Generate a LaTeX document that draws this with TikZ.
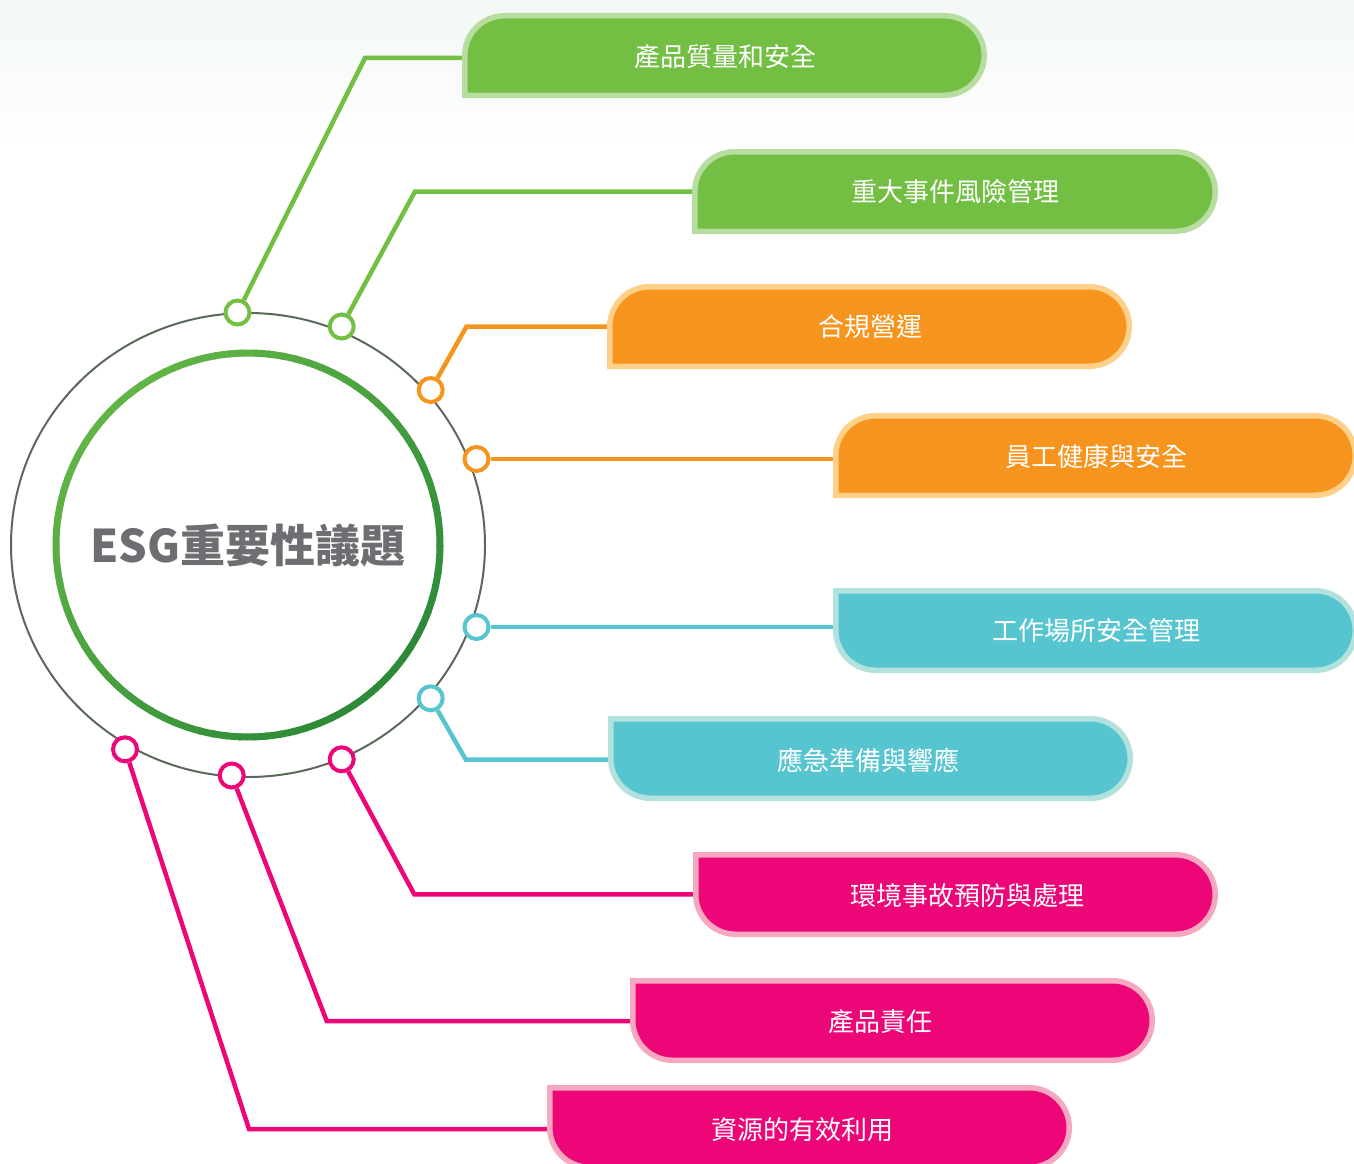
\documentclass[tikz,border=0pt]{standalone}
\usepackage{fontspec}
\setmainfont{Noto Sans CJK TC}
\definecolor{cgreen}{RGB}{114,191,68}
\definecolor{bgreen}{RGB}{184,221,160}
\definecolor{corange}{RGB}{247,148,30}
\definecolor{borange}{RGB}{254,208,138}
\definecolor{ccyan}{RGB}{86,197,208}
\definecolor{bcyan}{RGB}{178,225,222}
\definecolor{cpink}{RGB}{236,6,120}
\definecolor{bpink}{RGB}{245,168,190}
\definecolor{ring}{RGB}{90,105,90}
\definecolor{glight}{RGB}{98,181,70}
\definecolor{gdark}{RGB}{44,138,56}
\definecolor{cgray}{RGB}{109,110,113}
\definecolor{bgtop}{RGB}{242,248,245}
\newcommand\pillA[6]{%
 \pgfmathsetmacro\pXa{#1+2.75}\pgfmathsetmacro\pYa{#2+2.75}%
 \pgfmathsetmacro\pXb{#3-2.75}\pgfmathsetmacro\pYb{#4-2.75}%
 \pgfmathsetmacro\pR{(\pYb-\pYa)/2}%
 \filldraw[fill=#5,draw=#6,line width=5.5] (\pXa,\pYb) -- (\pXa,\pYa+\pR)
   arc[start angle=180,end angle=270,radius=\pR] -- (\pXb-\pR,\pYa)
   arc[start angle=270,end angle=450,radius=\pR] -- cycle;}
\newcommand\pillB[6]{%
 \pgfmathsetmacro\pXa{#1+2.75}\pgfmathsetmacro\pYa{#2+2.75}%
 \pgfmathsetmacro\pXb{#3-2.75}\pgfmathsetmacro\pYb{#4-2.75}%
 \pgfmathsetmacro\pR{(\pYb-\pYa)/2}%
 \filldraw[fill=#5,draw=#6,line width=5.5] (\pXa,\pYa) -- (\pXb-\pR,\pYa)
   arc[start angle=270,end angle=450,radius=\pR] -- (\pXa+\pR,\pYb)
   arc[start angle=90,end angle=180,radius=\pR] -- cycle;}
\tikzset{
  mk/.style={circle,draw=#1,line width=4,fill=white,minimum size=24,inner sep=0pt},
  cn/.style={draw=#1,line width=4.5},
  lbl/.style={text=white,font=\fontsize{26}{30}\selectfont,inner sep=0pt}
}
\begin{document}
\begin{tikzpicture}[x=1pt,y=-1pt]
\useasboundingbox (0,0) rectangle (1354,1164);
\fill[white] (0,0) rectangle (1354,1164);
\fill[top color=bgtop,bottom color=white] (0,0) rectangle (1354,150);
% outer ring
\draw[ring,line width=2] (248,545) ellipse[x radius=237,y radius=232];
% markers
\node[mk=cgreen] (m1) at (237.5,312.5) {};
\node[mk=cgreen] (m2) at (341.7,326.5) {};
\node[mk=corange] (m3) at (430.7,390) {};
\node[mk=corange] (m4) at (476.5,459) {};
\node[mk=ccyan] (m5) at (476.5,627) {};
\node[mk=ccyan] (m6) at (430.7,698.3) {};
\node[mk=cpink] (m7) at (341.7,759.3) {};
\node[mk=cpink] (m8) at (231.7,775.5) {};
\node[mk=cpink] (m9) at (125,749.3) {};
% connector ends
\coordinate (e1) at (472,58);
\coordinate (e2) at (702,191.5);
\coordinate (e3) at (617,326.5);
\coordinate (e4) at (843,459);
\coordinate (e5) at (843,627);
\coordinate (e6) at (618,759.5);
\coordinate (e7) at (703,894.3);
\coordinate (e8) at (640,1021);
\coordinate (e9) at (557,1129);
% connectors
\draw[cn=cgreen] (m1) -- (365,58) -- (e1);
\draw[cn=cgreen] (m2) -- (415,191.5) -- (e2);
\draw[cn=corange] (m3) -- (466.5,326.5) -- (e3);
\draw[cn=corange] (m4) -- (e4);
\draw[cn=ccyan] (m5) -- (e5);
\draw[cn=ccyan] (m6) -- (465.7,759.5) -- (e6);
\draw[cn=cpink] (m7) -- (414.3,894.3) -- (e7);
\draw[cn=cpink] (m8) -- (326.7,1021) -- (e8);
\draw[cn=cpink] (m9) -- (249,1129) -- (e9);
% boxes
\pillA{462}{13}{987}{98}{cgreen}{bgreen}
\pillA{692}{149}{1218}{234}{cgreen}{bgreen}
\pillA{607}{284}{1132}{369}{corange}{borange}
\pillA{833}{413}{1358}{498}{corange}{borange}
\pillB{833}{588}{1358}{673}{ccyan}{bcyan}
\pillB{608}{716}{1133}{801}{ccyan}{bcyan}
\pillB{693}{852}{1218}{937}{cpink}{bpink}
\pillB{630}{978}{1155}{1063}{cpink}{bpink}
\pillB{547}{1085}{1072}{1170}{cpink}{bpink}
% labels
\node[lbl] (t1) at (725,57) {產品質量和安全};
\node[lbl] (t2) at (955,192) {重大事件風險管理};
\node[lbl] (t3) at (870,327) {合規營運};
\node[lbl] (t4) at (1096,457) {員工健康與安全};
\node[lbl] (t5) at (1096,631) {工作場所安全管理};
\node[lbl] (t6) at (868,760) {應急準備與響應};
\node[lbl] (t7) at (967,896) {環境事故預防與處理};
\node[lbl] (t8) at (880,1022) {產品責任};
\node[lbl] (t9) at (802,1130) {資源的有效利用};
% inner gradient ring
\foreach \a in {0,4,...,356}{
  \pgfmathtruncatemacro\mixv{50+50*cos(\a+2-225)}
  \draw[line width=7,color=glight!\mixv!gdark] (248,545) ++(\a:192) arc[start angle=\a,end angle=\a+4.6,radius=192];
}
\node[text=cgray,font=\bfseries\fontsize{45}{52}\selectfont,inner sep=0pt] (c) at (248,546) {ESG重要性議題};
\end{tikzpicture}
\end{document}
